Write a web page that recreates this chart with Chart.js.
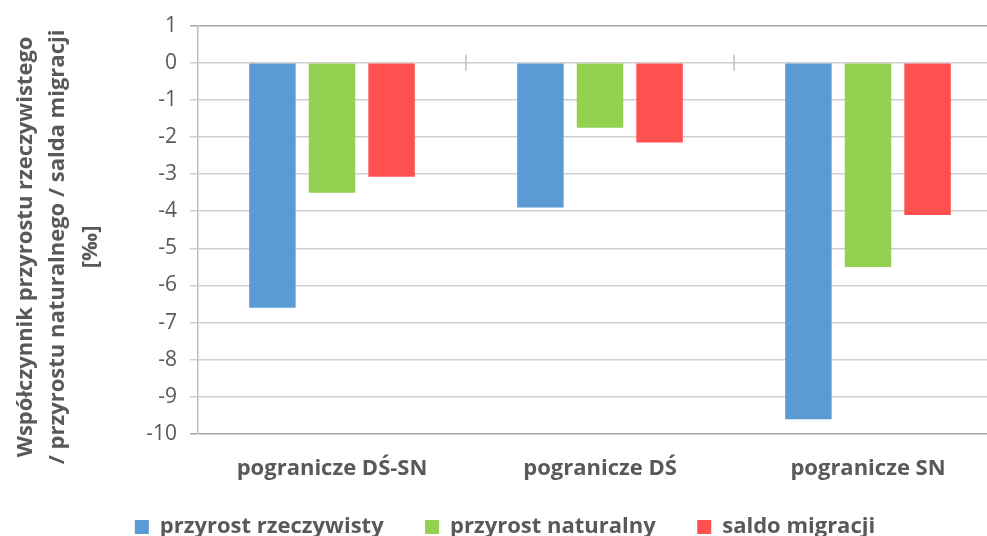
<!DOCTYPE html>
<html>
<head>
<meta charset="utf-8">
<script src="https://cdn.jsdelivr.net/npm/chart.js@4"></script>
<style>
    html, body { margin: 0; padding: 0; overflow: hidden; background: #fff; }
    #wrap { width: 1002px; height: 548px; }
</style>
</head>
<body>
<div id="wrap"><canvas id="chart"></canvas></div>
<script>
// data
var categories = ['pogranicze DŚ-SN', 'pogranicze DŚ', 'pogranicze SN'];
var seriesNames = ['przyrost rzeczywisty', 'przyrost naturalny', 'saldo migracji'];
var rzeczywisty = [-6.6, -3.9, -9.6];
var naturalny = [-3.5, -1.75, -5.5];
var migracja = [-3.07, -2.15, -4.1];
var colors = ['#5B9BD5', '#92D050', '#FF5050'];
var yTitle = ['Współczynnik przyrostu rzeczywistego', '/ przyrostu naturalnego / salda migracji', '[‰]'];

var textColor = '#595959';
var font = "'Open Sans', sans-serif";

// small cross ticks at category boundaries on the zero line
var boundaryTicks = {
    id: 'boundaryTicks',
    beforeDatasetsDraw: function(chart){
        var x = chart.scales.x, y = chart.scales.y;
        var y0 = y.getPixelForValue(0);
        var ctx = chart.ctx;
        ctx.save();
        ctx.strokeStyle = '#bfbfbf';
        ctx.lineWidth = 1.5;
        for (var i = 1; i < categories.length; i++){
            var px = (x.getPixelForValue(i - 1) + x.getPixelForValue(i)) / 2;
            ctx.beginPath();
            ctx.moveTo(px, y0 - 8);
            ctx.lineTo(px, y0 + 8);
            ctx.stroke();
        }
        ctx.restore();
    }
};

var datasets = [rzeczywisty, naturalny, migracja].map(function(values, i){
    return {
        label: seriesNames[i],
        data: values,
        backgroundColor: colors[i],
        borderWidth: 0,
        categoryPercentage: 0.667,
        barPercentage: 0.78
    };
});

// title sits a bit below the middle of the plot in the original
var pad = '\u00a0\u00a0\u00a0\u00a0\u00a0\u00a0';

new Chart(document.getElementById('chart'), {
    type: 'bar',
    data: { labels: categories, datasets: datasets },
    plugins: [boundaryTicks],
    options: {
        responsive: true,
        maintainAspectRatio: false,
        animation: false,
        layout: { padding: { left: 8, top: 17.5, right: 0, bottom: 0 } },
        plugins: {
            tooltip: { enabled: false },
            legend: {
                position: 'bottom',
                labels: {
                    boxWidth: 14,
                    boxHeight: 14,
                    padding: 30,
                    color: textColor,
                    font: { family: font, size: 22, weight: 'bold' },
                    // a little extra room after every item but the last
                    generateLabels: function(chart){
                        var items = Chart.defaults.plugins.legend.labels.generateLabels(chart);
                        items.forEach(function(it, i){
                            if (i < items.length - 1) it.text += '\u00a0\u00a0';
                        });
                        return items;
                    }
                }
            }
        },
        scales: {
            x: {
                grid: { display: false, drawTicks: false },
                border: { display: false },
                afterFit: function(scale){ scale.height = Math.min(scale.height, 52); },
                ticks: {
                    color: textColor,
                    padding: 21.4,
                    maxRotation: 0,
                    font: { family: font, size: 22, weight: 'bold' }
                }
            },
            y: {
                min: -10,
                max: 1,
                afterFit: function(scale){ scale.width = 190; },
                ticks: {
                    stepSize: 1,
                    color: textColor,
                    padding: 13,
                    font: { family: font, size: 21 }
                },
                grid: {
                    color: function(c){
                        return (c.tick && (c.tick.value === 1 || c.tick.value === -10)) ? '#a6a6a6' : '#cfcfcf';
                    },
                    lineWidth: 1.5,
                    tickLength: 8
                },
                border: { color: '#bfbfbf', width: 1.5 },
                title: {
                    display: true,
                    text: yTitle.map(function(t){ return t + pad; }),
                    color: textColor,
                    padding: 1,
                    font: { family: font, size: 22, weight: 'bold', lineHeight: 1.48 }
                }
            }
        }
    }
});
</script>
</body>
</html>
